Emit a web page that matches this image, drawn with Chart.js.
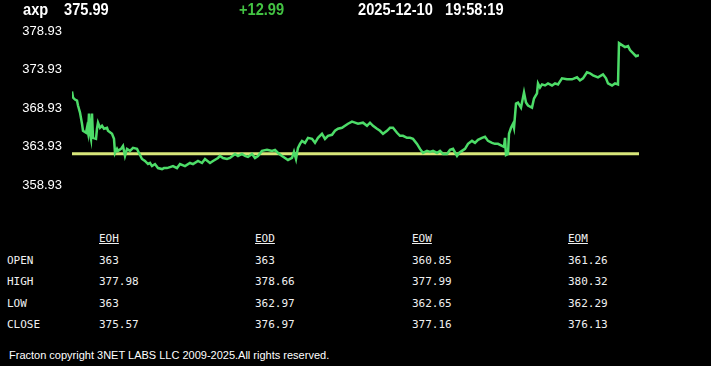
<!DOCTYPE html>
<html>
<head>
<meta charset="utf-8">
<script src="https://cdn.jsdelivr.net/npm/chart.js@4.4.1/dist/chart.umd.min.js"></script>
<style>
  html, body { margin:0; padding:0; background:#000; width:711px; height:366px; overflow:hidden; }
  #wrap { position:relative; width:711px; height:366px; }
  #c { position:absolute; left:0; top:0; }
  .hdr { position:absolute; top:1px; font-family:"Liberation Sans",Arial,sans-serif; font-weight:bold; font-size:17px; line-height:17px; color:#fff; white-space:pre; transform:scaleX(0.86); transform-origin:0 0; }
  .tbl { position:absolute; font-family:"DejaVu Sans Mono",monospace; font-size:11px; line-height:13px; color:#f0f0f0; white-space:pre; }
  .u { text-decoration:underline; }
  #foot { position:absolute; left:9px; top:349px; font-family:"Liberation Sans",Arial,sans-serif; font-size:11px; line-height:13px; color:#fff; white-space:pre; }
</style>
</head>
<body>
<div id="wrap">
  <canvas id="c" width="711" height="203"></canvas>
</div>
<script>
// ---- header ----
const symbol = "axp";
const lastPrice = "375.99";
const change = "+12.99";
const quoteDate = "2025-12-10";
const quoteTime = "19:58:19";

// ---- chart data (time index, price) ----
const times = [0,1,3,5,6,8,10,11,14,15,16,17,18,19,20,21,24,25,26,28,30,32,35,36,40,42,43,45,46,49,51,53,55,58,61,65,67,70,73,76,78,80,83,86,90,92,95,98,101,105,108,113,118,121,126,130,133,138,141,146,148,151,155,158,163,166,170,173,176,180,183,186,190,195,200,203,206,210,213,216,220,222,224,225,226,228,230,233,236,240,243,246,250,253,256,260,263,266,270,273,276,280,283,286,291,295,298,301,305,308,311,315,318,321,325,328,331,335,338,341,345,348,351,355,358,361,365,368,371,375,378,381,385,387,390,393,396,400,403,406,410,413,416,420,423,426,430,432,433,434,436,437,439,441,442,444,446,449,451,452,454,456,460,462,465,466,468,470,473,476,480,483,486,490,495,500,505,508,511,515,518,521,526,531,534,536,540,543,546,547,550,553,556,558,561,564,567];
const prices = [371.09,370.30,370.04,369.91,369.26,368.34,366.90,365.99,365.73,366.38,365.73,368.21,365.60,364.94,368.21,365.07,364.94,366.25,367.04,366.38,366.64,366.25,366.38,365.99,365.60,364.94,363.11,363.64,363.38,363.64,364.03,362.72,363.64,363.38,363.77,363.64,363.11,362.33,362.07,361.67,361.81,361.41,361.67,361.15,361.02,361.15,361.15,361.28,361.41,361.15,361.67,361.41,361.81,361.67,362.07,361.81,362.33,361.81,362.07,362.46,362.72,362.46,362.33,362.46,362.98,362.72,362.98,362.72,362.59,362.98,362.46,362.72,363.38,363.51,363.38,363.51,363.11,362.72,362.46,362.20,362.46,363.25,362.33,363.11,363.77,364.29,364.68,364.42,365.07,364.94,364.42,365.07,365.60,364.94,365.34,365.47,365.99,366.25,366.38,366.64,366.90,367.17,367.04,366.90,367.04,366.64,367.04,366.64,366.25,365.99,365.60,365.99,366.38,366.38,365.73,365.34,365.34,365.07,365.07,364.94,364.29,363.64,363.11,363.38,363.25,363.38,363.11,363.38,362.98,362.98,363.51,363.64,362.72,363.11,363.38,363.64,364.29,364.68,364.42,364.81,365.07,365.21,364.68,364.42,364.29,364.29,364.03,363.90,365.07,362.85,362.98,365.60,366.38,366.90,366.38,369.52,369.65,369.00,370.30,370.96,369.65,369.26,369.00,370.17,370.83,372.13,371.61,372.00,371.87,372.13,371.87,372.13,372.00,372.79,372.66,372.66,372.92,372.52,372.79,373.57,373.44,373.18,372.92,373.31,372.79,372.13,371.87,372.13,372.00,377.36,377.10,376.84,376.97,376.45,376.05,375.66,375.79];
const openPrice = 363;
const yTicks = [358.93, 363.93, 368.93, 373.93, 378.93];

// ---- table ----
const rowLabels = ["OPEN","HIGH","LOW","CLOSE"];
const colLabels = ["EOH","EOD","EOW","EOM"];
const eoh = ["363","377.98","363","375.57"];
const eod = ["363","378.66","362.97","376.97"];
const eow = ["360.85","377.99","362.65","377.16"];
const eom = ["361.26","380.32","362.29","376.13"];

const wrap = document.getElementById('wrap');
function addDiv(cls, text, left, top, extra) {
  const d = document.createElement('div');
  d.className = cls; d.textContent = text;
  d.style.left = left + 'px'; d.style.top = top + 'px';
  if (extra) Object.assign(d.style, extra);
  wrap.appendChild(d);
  return d;
}
addDiv('hdr', symbol, 23, 1);
addDiv('hdr', lastPrice, 64, 1);
addDiv('hdr', change, 239, 1, {color:'#43c343'});
addDiv('hdr', quoteDate, 358, 1);
addDiv('hdr', quoteTime, 445, 1);

const colX = [99, 255, 412, 568];
const rowTop = [254, 275, 297, 318];
const cols = [eoh, eod, eow, eom];
colLabels.forEach((c, i) => { addDiv('tbl u', c, colX[i], 232); });
rowLabels.forEach((r, j) => {
  addDiv('tbl', r, 7, rowTop[j]);
  cols.forEach((col, i) => addDiv('tbl', col[j], colX[i], rowTop[j]));
});
const f = document.createElement('div'); f.id = 'foot';
f.textContent = "Fracton copyright 3NET LABS LLC 2009-2025.All rights reserved.";
wrap.appendChild(f);

// ---- chart ----
const pts = times.map((t, i) => ({x: t, y: prices[i]}));
const openLine = [{x: times[0], y: openPrice}, {x: times[times.length-1], y: openPrice}];

new Chart(document.getElementById('c'), {
  type: 'line',
  data: {
    datasets: [
      { data: openLine, borderColor: '#d8e67a', borderWidth: 3, pointRadius: 0, tension: 0, order: 2 },
      { data: pts, borderColor: '#4ddc68', borderWidth: 2.5, pointRadius: 0, tension: 0, order: 1 }
    ]
  },
  options: {
    responsive: false,
    animation: false,
    events: [],
    layout: { padding: { left: 0, right: 72, top: 31, bottom: 8 } },
    plugins: { legend: { display: false }, tooltip: { enabled: false } },
    scales: {
      x: { type: 'linear', display: false, min: times[0], max: times[times.length-1] },
      y: {
        min: yTicks[0], max: yTicks[yTicks.length-1],
        grid: { display: false, drawTicks: false },
        border: { display: false },
        afterBuildTicks: (s) => { s.ticks = yTicks.map(v => ({value: v})); },
        afterFit: (s) => { s.width = 72; },
        ticks: {
          color: '#ffffff',
          padding: 10,
          font: { family: '"Liberation Sans",Arial,sans-serif', size: 13 },
          callback: (v) => Number(v).toFixed(2)
        }
      }
    }
  }
});
</script>
</body>
</html>
